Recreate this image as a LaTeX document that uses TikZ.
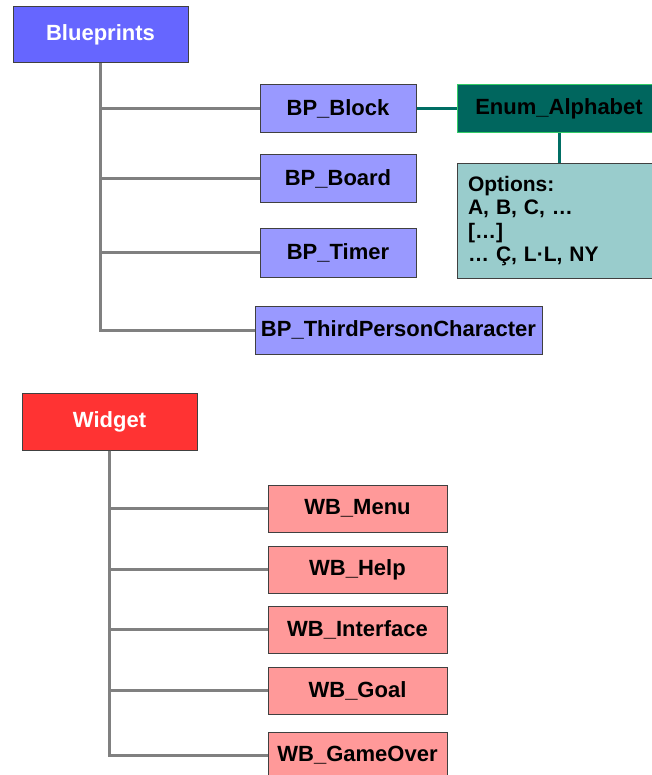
\documentclass[tikz,border=0pt]{standalone}
\usepackage{fontspec}
\setmainfont{Liberation Sans}
\definecolor{bpdark}{RGB}{102,102,255}
\definecolor{bplight}{RGB}{153,153,255}
\definecolor{wdred}{RGB}{255,51,51}
\definecolor{wdlight}{RGB}{255,153,153}
\definecolor{enumfill}{RGB}{0,102,94}
\definecolor{enumborder}{RGB}{51,204,102}
\definecolor{optfill}{RGB}{153,204,204}
\definecolor{linkgray}{RGB}{128,128,128}
\definecolor{linkteal}{RGB}{0,110,100}
\begin{document}
\begin{tikzpicture}[x=1pt,y=-1pt,
  box/.style={draw=black!75,line width=1pt,inner sep=0pt,font=\fontsize{22}{26}\selectfont\bfseries},
  root/.style={box,text=white,minimum width=175pt,minimum height=56pt},
  bpchild/.style={box,fill=bplight,minimum width=156pt,minimum height=48pt},
  wbchild/.style={box,fill=wdlight,minimum width=179pt,minimum height=47pt},
  tree/.style={draw=linkgray,line width=3pt},
  teal/.style={draw=linkteal,line width=3pt}]
\useasboundingbox (0,0) rectangle (652,775);
\clip (0,0) rectangle (652,775);
\fill[white] (0,0) rectangle (652,775);
% Blueprints tree
\node[root,fill=bpdark] (bp) at (100.5,35) {Blueprints};
\node[bpchild] (blk) at (338,109) {BP\_Block};
\node[bpchild] (brd) at (338,179) {BP\_Board};
\node[bpchild] (tim) at (338,253) {BP\_Timer};
\node[bpchild,minimum width=287pt] (tpc) at (398.5,330) {BP\_ThirdPersonCharacter};
\node[box,draw=enumborder,fill=enumfill,minimum width=204pt,minimum height=48pt] (enum) at (559,109) {Enum\_Alphabet};
\node[box,fill=optfill,minimum width=204pt,minimum height=114pt,text width=182pt,align=left,
  font=\fontsize{21}{23.5}\selectfont\bfseries] (opt) at (559,221)
  {Options:\\A, B, C, …\\{[…]}\\… Ç, L·L, NY};
\draw[tree] (bp.south) |- (blk.west);
\draw[tree] (bp.south) |- (brd.west);
\draw[tree] (bp.south) |- (tim.west);
\draw[tree] (bp.south) |- (tpc.west);
\draw[teal] (blk.east) -- (enum.west);
\draw[teal] (enum.south) -- (opt.north);
% Widget tree
\node[root,fill=wdred,minimum height=57pt] (wd) at (109.5,421.5) {Widget};
\node[wbchild] (menu) at (357.5,508.5) {WB\_Menu};
\node[wbchild] (help) at (357.5,569.5) {WB\_Help};
\node[wbchild] (inter) at (357.5,629.5) {WB\_Interface};
\node[wbchild] (goal) at (357.5,690.5) {WB\_Goal};
\node[wbchild] (gover) at (357.5,755.5) {WB\_GameOver};
\draw[tree] (wd.south) |- (menu.west);
\draw[tree] (wd.south) |- (help.west);
\draw[tree] (wd.south) |- (inter.west);
\draw[tree] (wd.south) |- (goal.west);
\draw[tree] (wd.south) |- (gover.west);
\end{tikzpicture}
\end{document}
